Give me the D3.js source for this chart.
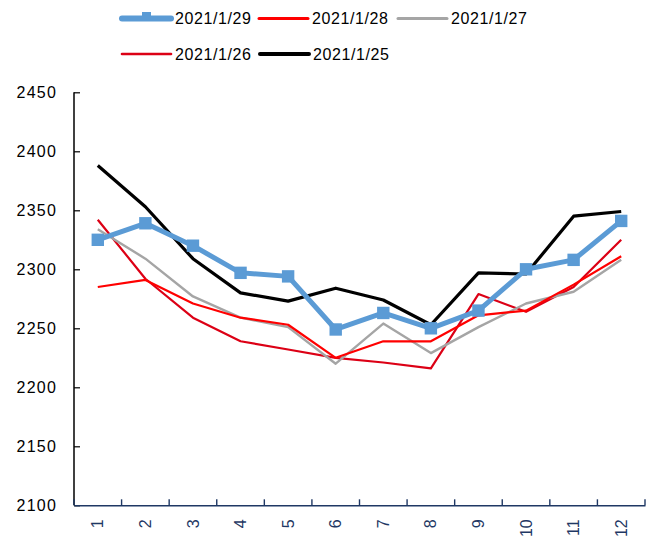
<!DOCTYPE html>
<html>
<head>
<meta charset="utf-8">
<script src="https://cdn.jsdelivr.net/npm/d3@7"></script>
<style>
  body { margin: 0; background: #fff; }
  svg { display: block; font-family: "Liberation Sans", Arial, sans-serif; }
</style>
</head>
<body>
<div id="chart"></div>
<script>
// data
var months = ["1", "2", "3", "4", "5", "6", "7", "8", "9", "10", "11", "12"];
var d0129 = [2325, 2339, 2320, 2297, 2294, 2249, 2263, 2250, 2265, 2300, 2308, 2341];
var d0128 = [2285, 2291, 2271, 2259, 2253, 2225, 2239, 2239, 2261, 2265, 2287, 2311];
var d0127 = [2334, 2309, 2277, 2259, 2251, 2220, 2254, 2229, 2251, 2271, 2281, 2308];
var d0126 = [2342, 2292, 2259, 2239, 2232, 2225, 2221, 2216, 2279, 2264, 2285, 2325];
var d0125 = [2388, 2353, 2309, 2280, 2273, 2284, 2274, 2253, 2297, 2296, 2345, 2349];
var yTicks = [2100, 2150, 2200, 2250, 2300, 2350, 2400, 2450];

var series = [
    { name: "2021/1/26", values: d0126, color: "#DC0015", width: 2.2, legendWidth: 2.6 },
    { name: "2021/1/27", values: d0127, color: "#A5A5A5", width: 2.4, legendWidth: 3 },
    { name: "2021/1/28", values: d0128, color: "#FF0000", width: 2.2, legendWidth: 3 },
    { name: "2021/1/25", values: d0125, color: "#000000", width: 3.2, legendWidth: 4 },
    { name: "2021/1/29", values: d0129, color: "#5B9BD5", width: 5, legendWidth: 6, marker: true }
];

(function () {
    var W = 656, H = 539;
    var pl = 74, pr = 645, pt = 92.3, pb = 505.3;

    var svg = d3.select("#chart").append("svg").attr("width", W).attr("height", H);

    var x = d3.scaleBand().domain(months).range([pl, pr]);
    var y = d3.scaleLinear().domain([2100, 2450]).range([pb, pt]);

    // y axis
    var yAxis = svg.append("g")
        .attr("transform", "translate(" + pl + ",0)")
        .call(d3.axisRight(y).tickValues(yTicks).tickSize(6).tickFormat(d3.format("d")));
    yAxis.select(".domain").attr("stroke", "#000").attr("stroke-width", 1.5).attr("d", "M0," + pt + "V" + pb);
    yAxis.selectAll(".tick line").attr("stroke", "#000").attr("stroke-width", 1.2);
    yAxis.selectAll(".tick text")
        .attr("x", -17).attr("dy", "0.35em")
        .attr("text-anchor", "end")
        .style("font-size", "16px").style("letter-spacing", "1.2px")
        .attr("fill", "#000");

    // x axis, ticks between categories
    var xAxis = svg.append("g")
        .attr("transform", "translate(0," + pb + ")")
        .call(d3.axisBottom(x).tickSize(0).tickSizeOuter(0));
    xAxis.select(".domain").attr("stroke", "#1F3864").attr("stroke-width", 1.6);
    xAxis.selectAll(".tick text")
        .attr("transform", "rotate(-90)")
        .attr("x", -14).attr("y", 0).attr("dy", "0.35em")
        .attr("text-anchor", "end")
        .style("font-size", "16px")
        .attr("fill", "#1F3864");
    var bounds = months.map(function (m) { return x(m); }).concat([pr]);
    xAxis.selectAll(".sep").data(bounds).enter().append("line")
        .attr("class", "sep")
        .attr("x1", function (d) { return d; }).attr("x2", function (d) { return d; })
        .attr("y1", 0).attr("y2", -6)
        .attr("stroke", "#1F3864").attr("stroke-width", 1.4);

    // lines
    var line = d3.line()
        .x(function (d, i) { return x(months[i]) + x.bandwidth() / 2; })
        .y(function (d) { return y(d); });

    series.forEach(function (s) {
        svg.append("path")
            .datum(s.values)
            .attr("fill", "none")
            .attr("stroke", s.color)
            .attr("stroke-width", s.width)
            .attr("stroke-linejoin", "round")
            .attr("d", line);
        if (s.marker) {
            svg.selectAll(".mk").data(s.values).enter().append("rect")
                .attr("class", "mk")
                .attr("x", function (d, i) { return x(months[i]) + x.bandwidth() / 2 - 6.2; })
                .attr("y", function (d) { return y(d) - 6.2; })
                .attr("width", 12.4).attr("height", 12.4)
                .attr("fill", s.color);
        }
    });

    // legend
    var legendItems = [
        { s: series[4], x: 122, y: 18.5 },
        { s: series[2], x: 259, y: 18.5 },
        { s: series[1], x: 398, y: 18.5 },
        { s: series[0], x: 122, y: 54 },
        { s: series[3], x: 260, y: 54 }
    ];
    var lg = svg.append("g");
    legendItems.forEach(function (it) {
        var g = lg.append("g").attr("transform", "translate(" + it.x + "," + it.y + ")");
        g.append("line")
            .attr("x1", 0).attr("x2", 49).attr("y1", 0).attr("y2", 0)
            .attr("stroke", it.s.color)
            .attr("stroke-width", it.s.legendWidth)
            .attr("stroke-linecap", "round");
        if (it.s.marker) {
            g.append("rect").attr("x", 20).attr("y", -6.5).attr("width", 9).attr("height", 6)
                .attr("fill", it.s.color);
        }
        g.append("text")
            .attr("x", 53).attr("y", 0).attr("dy", "0.36em")
            .style("font-size", "16px").style("letter-spacing", "0.6px")
            .attr("fill", "#000")
            .text(it.s.name);
    });
})();
</script>
</body>
</html>
